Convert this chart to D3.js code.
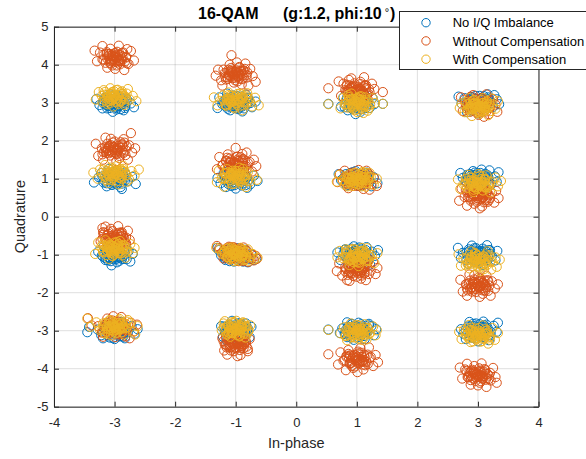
<!DOCTYPE html>
<html>
<head>
<meta charset="utf-8">
<script src="https://cdn.jsdelivr.net/npm/d3@7/dist/d3.min.js"></script>
<style>
  body { margin: 0; background: #fff; }
  svg { display: block; font-family: "Liberation Sans", Arial, Helvetica, sans-serif; }
</style>
</head>
<body>
<svg id="chart" width="586" height="459"></svg>
<script>
// ---- data -------------------------------------------------------------
const seriesNames = ["No I/Q Imbalance", "Without Compensation", "With Compensation"];
const xTicks = [-4, -3, -2, -1, 0, 1, 2, 3, 4];
const yTicks = [-5, -4, -3, -2, -1, 0, 1, 2, 3, 4, 5];

// Cluster centres (I, Q) for each of the 16 symbols, per series
const idealCentres = [[-3,3],[-3,1],[-3,-1],[-3,-3],[-1,3],[-1,1],[-1,-1],[-1,-3],
                      [1,3],[1,1],[1,-1],[1,-3],[3,3],[3,1],[3,-1],[3,-3]];
const uncompCentres = [[-3,4.17],[-3,1.78],[-3,-0.56],[-3,-2.92],[-1,3.75],[-1,1.39],[-1,-0.97],[-1,-3.34],
                       [1,3.34],[1,0.97],[1,-1.39],[1,-3.75],[3,2.92],[3,0.56],[3,-1.80],[3,-4.17]];
const compCentres = [[-3,3.14],[-3,1.12],[-3,-0.86],[-3,-2.9],[-1,3.05],[-1,1.05],[-1,-0.98],[-1,-2.96],
                     [1,2.99],[1,0.98],[1,-1.04],[1,-3.03],[3,2.9],[3,0.88],[3,-1.15],[3,-3.1]];

// Outer received symbols: deviations from each centre, in hundredths (dI, dQ, dI, dQ, ...)
const idealDev = [
  [-5,8,12,-4,-18,2,3,-14,20,10,-10,-9,7,17,-25,-6,15,-20,0,3,-8,22,27,-2,-14,13,9,-8,-3,-24,18,6,-20,-15,4,12,32,-12,-30,10],
  [6,-3,-11,7,14,11,-4,-16,22,-7,-17,-5,2,19,-26,4,10,-22,-7,10,29,5,-13,-20,17,16,-1,-9,-22,15,8,2,35,-14,-34,-10,12,-27,-9,26],
  [-3,-6,9,5,-14,12,16,-11,-7,18,4,-20,-21,-2,23,9,0,14,-11,-15,13,-3,-18,22,26,-18,6,24,-27,8,-5,-28,19,18,-15,-9,30,2,2,-12],
  [4,2,-9,-8,15,9,-16,6,8,-15,22,-4,-5,16,-22,-12,28,12,0,-22,-12,20,17,-20,-28,3,11,23,33,-8,-19,-20,6,-4,-42,10,-45,-4,38,4],
  [7,4,-6,-10,-15,8,13,-6,2,18,-22,-4,20,11,-9,-20,27,-12,-3,6,-27,14,11,-23,17,21,-14,24,33,3,-30,-14,5,-15,24,-1,-19,-2,-1,-4],
  [-2,5,10,-8,-13,-4,5,15,18,4,-20,10,-7,-19,24,-15,-25,-12,13,20,0,-26,-11,22,30,8,-30,2,8,-4,19,-24,-16,-22,36,-6,3,28,-6,12],
  [-20,8,-12,14,0,0,10,-2,22,-12,-28,12,30,-14,-6,-12,6,12,-17,-6,16,4,-10,16,12,-18,26,0,-24,-2,4,-16,-2,8,20,-20,-30,18,34,-10],
  [3,5,-8,-7,11,12,-13,9,14,-10,-3,-18,6,20,-18,-2,19,3,-10,16,1,-8,23,-17,-21,-16,9,-26,-6,26,17,19,-15,-25,26,10,-24,12,0,0],
  [-4,2,9,-7,-12,10,15,6,1,-15,-18,-4,21,-14,-7,19,6,-24,-22,14,26,12,-15,-20,12,24,-2,-30,29,-4,-26,-10,18,-3,-9,6,-47,-3,43,-3],
  [-6,3,8,-5,-14,-8,14,7,2,12,-20,5,22,-6,-4,-14,10,-16,-26,-4,28,4,-11,15,17,16,4,-2,-30,12,34,-12,-17,-18,24,-20,-2,20,12,6],
  [5,-4,-9,6,12,9,-15,-7,0,16,19,-13,-22,3,8,-20,-5,22,25,8,-27,-14,16,20,-12,-24,30,-3,-3,-8,-19,14,9,2,22,-26,-32,6,35,12],
  [-2,-6,11,4,-13,8,7,-13,18,-3,-8,17,-19,-9,24,12,3,21,-24,6,13,-22,-5,-24,28,-12,-16,22,20,18,-28,-6,32,4,1,6,-47,3,-11,-2],
  [4,-3,-10,7,13,10,-16,-5,8,-14,20,3,-4,18,-22,12,25,-11,-9,-21,16,22,-27,-2,31,9,0,-28,-18,-25,11,-6,-32,16,27,20,-6,4,35,-4],
  [-5,4,10,-6,-14,11,16,9,1,-13,-20,-8,22,-15,-8,20,6,24,-25,2,28,6,-13,-22,14,-26,-1,14,31,-8,-29,15,19,22,-17,-1,8,-3,34,17],
  [6,5,-7,-6,11,-11,-15,9,18,12,-3,17,-19,-14,23,-4,2,-22,-25,5,15,25,-10,24,29,-15,-28,-9,8,-27,32,10,-16,-24,20,2,-4,-2,-33,18],
  [-3,7,8,-9,-12,-4,14,6,3,17,-17,11,21,-12,-8,-19,26,13,-24,-8,9,24,-14,23,18,-25,-28,4,31,-3,0,-28,-20,-22,33,21,12,1,-6,-2]
];
const uncompDev = [
  [-3,5,9,-8,-13,12,12,14,4,-19,-18,-4,19,2,-7,25,23,-15,-24,15,1,-28,27,19,-12,-25,16,-31,-29,-8,32,-6,-20,32,7,33,-33,20,21,24,0,-5,-8,-12],
  [4,-3,-9,8,12,12,-14,-10,0,20,18,-16,-21,2,8,-24,-6,27,24,10,-27,-18,15,26,-15,30,29,-9,-31,14,3,-32,34,2,-19,-28,22,-28,-2,4,27,42,-11,-4],
  [-2,4,7,-9,-10,11,11,13,2,-20,-15,-6,16,-1,-6,24,19,-14,-19,15,-1,-27,22,19,-12,-24,13,-30,-23,-9,25,-5,-15,30,6,31,0,-2,-8,-12,10,4,-20,26],
  [3,4,-8,-7,14,10,-15,8,9,-17,21,-5,-4,19,-21,-13,27,13,1,-25,-12,24,18,-23,-27,4,11,28,32,-10,-19,-24,25,-28,6,-4,-44,25,-38,6,37,8,-2,30],
  [2,-4,-9,7,13,10,-13,-12,6,19,18,-9,-18,3,-3,-22,24,14,-24,-16,10,-27,-10,25,28,-5,-29,12,16,28,33,-20,-22,-30,2,31,-33,-4,21,-30,-7,50,6,1],
  [-4,3,8,-6,-11,-11,13,12,1,18,-16,9,18,-12,-6,-22,23,5,-22,-4,11,26,-13,25,27,-20,-27,18,7,-30,-18,-26,30,11,-31,-14,18,30,34,-6,0,42,-2,-1],
  [-19,10,-9,16,1,-1,11,-4,23,-10,-27,14,30,-18,-5,-12,7,14,-15,-8,17,6,-11,18,13,-20,27,-2,-23,2,5,-20,-1,10,21,-22,-31,20,35,-14,33,-6,26,-14],
  [2,4,-7,-8,9,11,-11,10,13,-12,-3,-20,5,22,-16,-3,17,5,-8,18,0,-10,20,-20,-19,-18,8,-30,-5,29,15,22,-14,-29,23,12,-22,14,11,-2,-1,31,3,-33],
  [4,3,-8,-7,11,-11,-12,11,15,12,-1,-20,-17,-4,6,21,21,-6,-22,16,2,-28,25,16,-13,26,18,-25,-26,-16,29,2,-9,30,10,-31,-30,22,12,33,-47,4,43,-6],
  [-5,2,8,-7,-12,9,13,8,1,-16,-18,-9,20,15,-7,19,24,-12,-23,-1,11,-24,-14,-22,28,5,-28,15,16,24,3,26,-32,-6,33,-16,21,-26,-9,-3,6,4,-20,24],
  [3,-4,-8,6,12,10,-13,-9,0,-19,17,14,-19,7,7,-24,-5,24,23,-3,-24,-16,15,-28,-12,-30,27,20,-29,16,31,-12,-2,31,20,26,-33,-4,9,-2,-16,-28,34,4],
  [-3,4,9,-6,-11,-11,12,12,2,20,-17,9,18,-13,-6,-23,23,6,-22,-4,11,-27,-14,24,27,-18,-27,18,6,29,-18,-29,31,11,-31,-14,20,31,35,-8,1,-34,-47,13],
  [2,5,-9,-6,12,-10,-13,10,15,12,-2,-18,-17,-3,6,20,20,-5,-22,16,1,-24,25,17,-12,24,18,-22,-25,-14,29,3,-8,28,10,-29,-28,22,14,30,-4,1,32,-16],
  [-3,4,8,-7,-12,-9,13,11,0,18,-16,10,18,-13,-6,-22,23,6,-22,-4,10,26,-13,25,27,-19,-27,18,7,-29,-18,-27,30,12,-31,-14,18,30,34,-7,-1,-2,3,-34],
  [4,-3,-8,8,11,12,-13,-10,1,20,17,-15,-19,2,8,-23,-6,26,23,10,-25,-17,14,25,-14,28,28,-9,-29,14,3,-31,33,2,-18,-28,21,-28,-2,4,-10,-5,12,0],
  [-2,4,8,-9,-11,11,12,13,3,-20,-16,-6,18,-1,-6,24,21,-14,-21,15,0,-27,25,19,-12,-25,14,-31,-26,-9,29,-5,-18,30,6,31,-30,20,31,-20,0,-3,-7,7]
];
const compDev = [
  [2,-4,-9,6,14,3,-4,14,10,-12,-16,-8,20,10,-21,4,5,20,-12,-18,25,-6,-2,-24,16,-20,-26,14,30,4,-7,24,12,16,-31,-6,22,22,-18,19,36,-10,0,1],
  [-3,2,8,-8,-13,9,11,12,-6,-15,19,-2,-18,-4,3,21,24,-14,-24,12,14,22,-10,-23,28,8,-28,-12,7,-27,-16,24,33,-4,-35,4,20,-20,-1,8,40,12,5,-2],
  [4,3,-7,-5,12,-9,-12,10,16,8,-3,-18,0,18,-19,-7,21,-6,-22,6,9,22,26,14,-9,-25,18,-22,-27,18,30,-10,-15,24,-32,-12,33,4,6,-10,-4,9,14,1],
  [-2,4,9,-6,-13,-3,12,11,4,-15,-9,15,20,-2,-19,9,26,10,-24,-8,16,-20,-6,-22,31,-12,8,21,-30,12,38,2,-16,-17,22,18,0,-2,-45,22,-40,0,34,-20],
  [1,-5,-11,4,12,8,-6,13,17,-9,-16,-10,7,19,22,5,-21,14,-2,-20,27,-15,-26,0,11,-25,19,20,-30,-12,32,8,-12,22,4,3,-36,9,24,-3,-8,-2,38,-12],
  [-4,3,9,6,-10,-9,15,-4,0,15,-17,9,20,12,-6,-19,24,-12,-23,-4,11,-22,-14,20,29,4,-28,16,6,24,-31,-14,17,-27,35,-8,-19,-26,2,-3,12,21,-8,10],
  [-18,8,-8,14,2,-2,12,-5,24,-8,-26,12,31,-14,-4,-13,8,12,-14,-8,18,6,-12,16,14,-16,28,0,-22,0,6,-18,0,9,22,-18,-32,16,36,-10,-2,3,16,-2],
  [2,-3,-7,6,10,7,-12,-8,14,-12,-3,16,6,-19,-16,4,18,8,-9,-20,1,22,21,-6,-20,15,12,18,-14,-14,24,10,-23,-3,5,-1,-5,-10,16,-22,-18,21,9,12],
  [3,4,-8,-6,12,-10,-13,8,16,9,-2,-17,-18,-3,7,18,22,-4,-23,13,1,-24,26,13,-14,21,18,-20,-27,-14,30,0,-9,25,11,-26,4,-1,-5,11,-47,-3,43,-2],
  [4,-2,-8,6,13,5,-13,-7,0,-12,18,-10,-19,8,8,14,23,6,-24,-2,-4,17,28,-14,-29,12,15,-19,-15,-18,33,2,10,20,-33,-6,21,17,-2,3,6,-6,-9,-1],
  [-3,5,10,-4,-12,-9,14,10,1,-16,-17,7,20,-12,-7,19,25,3,-23,-5,8,22,-12,-23,29,-18,-28,14,17,21,3,-26,-32,-3,34,8,22,-1,-4,-2,9,12,-18,18],
  [4,5,-9,-3,12,-8,-13,10,17,8,-4,-15,0,18,-18,-10,22,-3,-21,12,8,-21,27,14,-10,22,16,-20,-27,-4,31,-9,-16,-22,13,20,-2,-1,5,9,-47,5,33,4],
  [-2,5,10,-3,-12,-8,14,11,3,-15,-17,6,21,-12,-6,17,24,6,-22,-15,9,22,-27,8,29,-6,-10,-25,17,-23,-30,-4,33,14,4,-2,-14,22,23,21,-5,-3,12,1],
  [3,-4,-9,7,12,10,-14,-6,17,-10,-2,17,-20,12,8,-19,24,4,-24,-3,14,21,-7,-23,29,15,-29,-15,20,-24,1,24,33,-8,-33,10,-16,22,6,2,-4,-10,38,6],
  [-4,-3,8,6,-11,10,13,-9,0,-16,-17,-6,19,13,-5,20,24,-4,-24,5,10,-23,-14,-21,29,8,-28,-14,16,24,31,-17,-32,16,4,-28,-11,24,22,-24,2,3,36,2],
  [5,3,-8,-7,11,-10,-12,9,15,11,-3,16,-19,-3,20,-6,4,-19,-23,12,24,17,-12,-20,8,24,28,-14,-27,-12,-15,25,33,4,17,-24,-31,7,0,-2,-6,7,13,2]
];

// Intermediate ring of received symbols, in hundredths
const idealMid = [
  [15,4,-14,-6,6,15,-8,-14,18,-9,-17,10,10,-17,-4,17,20,2,-19,-1,13,12,-12,-15,3,-18,-16,13,17,-14,-9,5],
  [-16,3,14,8,-5,-16,9,14,-18,-10,17,-5,-11,16,4,-15,19,11,-20,6,12,-13,-2,18,15,-2,-13,-12,7,10,-7,-4],
  [12,-11,-13,9,17,7,-6,-17,1,16,-19,-5,20,-12,-10,13,8,-16,-15,-14,16,14,-3,19,11,3,-18,2,5,-8,-9,-9],
  [-12,-12,16,-7,-17,6,7,17,-3,-19,18,12,-14,14,10,-14,-20,-3,21,3,-8,-18,2,15,-11,9,14,-16,-6,8,9,-3],
  [17,9,-15,12,4,-17,-10,-11,19,-4,-18,-8,9,16,-6,14,14,-15,-20,3,1,-14,12,6,-13,-16,20,13,-4,19,6,-9],
  [-18,8,13,-12,-7,17,15,10,-12,-14,20,-7,-2,-17,8,18,-16,-4,10,-18,-20,14,18,2,-9,11,3,13,16,-17,-14,-1],
  [-15,4,14,-6,-6,15,8,-14,-18,-9,17,10,-10,-17,4,17,-20,2,19,-1,-13,12,12,-15,-3,-18,16,13,-17,-14,9,5],
  [16,3,-14,8,5,-16,-9,14,18,-10,-17,-5,11,16,-4,-15,-19,11,20,6,-12,-13,2,18,-15,-2,13,-12,-7,10,7,-4],
  [-12,-11,13,9,-17,7,6,-17,-1,16,19,-5,-20,-12,10,13,-8,-16,15,-14,-16,14,3,19,-11,3,18,2,-5,-8,9,-9],
  [12,-12,-16,-7,17,6,-7,17,3,-19,-18,12,14,14,-10,-14,20,-3,-21,3,8,-18,-2,15,11,9,-14,-16,6,8,-9,-3],
  [-17,9,15,12,-4,-17,10,-11,-19,-4,18,-8,-9,16,6,14,-14,-15,20,3,-1,-14,-12,6,13,-16,-20,13,4,19,-6,-9],
  [18,8,-13,-12,7,17,-15,10,12,-14,-20,-7,2,-17,-8,18,16,-4,-10,-18,20,14,-18,2,9,11,-3,13,-16,-17,14,-1],
  [15,-4,-14,6,6,-15,-8,14,18,9,-17,-10,10,17,-4,-17,20,-2,-19,1,13,-12,-12,15,3,18,-16,-13,17,14,-9,-5],
  [-16,-3,14,-8,-5,16,9,-14,-18,10,17,5,-11,-16,4,15,19,-11,-20,-6,12,13,-2,-18,15,2,-13,12,7,-10,-7,4],
  [12,11,-13,-9,17,-7,-6,17,1,-16,-19,5,20,12,-10,-13,8,16,-15,14,16,-14,-3,-19,11,-3,-18,-2,5,8,-9,9],
  [-12,12,16,7,-17,-6,7,-17,-3,19,18,-12,-14,-14,10,14,-20,3,21,-3,-8,18,2,-15,-11,-9,14,16,-6,-8,9,3]
];
const uncompMid = [
  [17,-9,-15,-12,4,17,-10,11,19,4,-18,8,9,-16,-6,-14,14,15,-20,-3,1,14,12,-6,-13,16,20,-13,-4,-19,6,9],
  [-18,-8,13,12,-7,-17,15,-10,-12,14,20,7,-2,17,8,-18,-16,4,10,18,-20,-14,18,-2,-9,-11,3,-13,16,17,-14,1],
  [-15,-4,14,6,-6,-15,8,14,-18,9,17,-10,-10,17,4,-17,-20,-2,19,1,-13,-12,12,15,-3,18,16,-13,-17,14,9,-5],
  [16,-3,-14,-8,5,16,-9,-14,18,10,-17,5,11,-16,-4,15,-19,-11,20,-6,-12,13,2,-18,-15,2,13,12,-7,-10,7,4],
  [-12,11,13,-9,-17,-7,6,17,-1,-16,19,5,-20,12,10,-13,-8,16,15,14,-16,-14,3,-19,-11,-3,18,-2,-5,8,9,9],
  [12,12,-16,7,17,-6,-7,-17,3,19,-18,-12,14,-14,-10,14,20,3,-21,-3,8,18,-2,-15,11,-9,-14,16,6,-8,-9,3],
  [-17,-9,15,-12,-4,17,10,11,-19,4,18,8,-9,-16,6,-14,-14,15,20,-3,-1,14,-12,-6,13,16,-20,-13,4,-19,-6,9],
  [18,-8,-13,12,7,-17,-15,-10,12,14,-20,7,2,17,-8,-18,16,4,-10,18,20,-14,-18,-2,9,-11,-3,-13,-16,17,14,1],
  [15,4,-14,-6,6,15,-8,-14,18,-9,-17,10,10,-17,-4,17,20,2,-19,-1,13,12,-12,-15,3,-18,-16,13,17,-14,-9,5],
  [-16,3,14,8,-5,-16,9,14,-18,-10,17,-5,-11,16,4,-15,19,11,-20,6,12,-13,-2,18,15,-2,-13,-12,7,10,-7,-4],
  [12,-11,-13,9,17,7,-6,-17,1,16,-19,-5,20,-12,-10,13,8,-16,-15,-14,16,14,-3,19,11,3,-18,2,5,-8,-9,-9],
  [-12,-12,16,-7,-17,6,7,17,-3,-19,18,12,-14,14,10,-14,-20,-3,21,3,-8,-18,2,15,-11,9,14,-16,-6,8,9,-3],
  [17,9,-15,12,4,-17,-10,-11,19,-4,-18,-8,9,16,-6,14,14,-15,-20,3,1,-14,12,6,-13,-16,20,13,-4,19,6,-9],
  [-18,8,13,-12,-7,17,15,10,-12,-14,20,-7,-2,-17,8,18,-16,-4,10,-18,-20,14,18,2,-9,11,3,13,16,-17,-14,-1],
  [-15,4,14,-6,-6,15,8,-14,-18,-9,17,10,-10,-17,4,17,-20,2,19,-1,-13,12,12,-15,-3,-18,16,13,-17,-14,9,5],
  [16,3,-14,8,5,-16,-9,14,18,-10,-17,-5,11,16,-4,-15,-19,11,20,6,-12,-13,2,18,-15,-2,13,-12,-7,10,7,-4]
];
const compMid = [
  [-12,-11,13,9,-17,7,6,-17,-1,16,19,-5,-20,-12,10,13,-8,-16,15,-14,-16,14,3,19,-11,3,18,2,-5,-8,9,-9],
  [12,-12,-16,-7,17,6,-7,17,3,-19,-18,12,14,14,-10,-14,20,-3,-21,3,8,-18,-2,15,11,9,-14,-16,6,8,-9,-3],
  [-17,9,15,12,-4,-17,10,-11,-19,-4,18,-8,-9,16,6,14,-14,-15,20,3,-1,-14,-12,6,13,-16,-20,13,4,19,-6,-9],
  [18,8,-13,-12,7,17,-15,10,12,-14,-20,-7,2,-17,-8,18,16,-4,-10,-18,20,14,-18,2,9,11,-3,13,-16,-17,14,-1],
  [15,-4,-14,6,6,-15,-8,14,18,9,-17,-10,10,17,-4,-17,20,-2,-19,1,13,-12,-12,15,3,18,-16,-13,17,14,-9,-5],
  [-16,-3,14,-8,-5,16,9,-14,-18,10,17,5,-11,-16,4,15,19,-11,-20,-6,12,13,-2,-18,15,2,-13,12,7,-10,-7,4],
  [12,11,-13,-9,17,-7,-6,17,1,-16,-19,5,20,12,-10,-13,8,16,-15,14,16,-14,-3,-19,11,-3,-18,-2,5,8,-9,9],
  [-12,12,16,7,-17,-6,7,-17,-3,19,18,-12,-14,-14,10,14,-20,3,21,-3,-8,18,2,-15,-11,-9,14,16,-6,-8,9,3],
  [17,-9,-15,-12,4,17,-10,11,19,4,-18,8,9,-16,-6,-14,14,15,-20,-3,1,14,12,-6,-13,16,20,-13,-4,-19,6,9],
  [-18,-8,13,12,-7,-17,15,-10,-12,14,20,7,-2,17,8,-18,-16,4,10,18,-20,-14,18,-2,-9,-11,3,-13,16,17,-14,1],
  [-15,-4,14,6,-6,-15,8,14,-18,9,17,-10,-10,17,4,-17,-20,-2,19,1,-13,-12,12,15,-3,18,16,-13,-17,14,9,-5],
  [16,-3,-14,-8,5,16,-9,-14,18,10,-17,5,11,-16,-4,15,-19,-11,20,-6,-12,13,2,-18,-15,2,13,12,-7,-10,7,4],
  [-12,11,13,-9,-17,-7,6,17,-1,-16,19,5,-20,12,10,-13,-8,16,15,14,-16,-14,3,-19,-11,-3,18,-2,-5,8,9,9],
  [12,12,-16,7,17,-6,-7,-17,3,19,-18,-12,14,-14,-10,14,20,3,-21,-3,8,18,-2,-15,11,-9,-14,16,6,-8,-9,3],
  [-17,-9,15,-12,-4,17,10,11,-19,4,18,8,-9,-16,6,-14,-14,15,20,-3,-1,14,-12,-6,13,16,-20,-13,4,-19,-6,9],
  [18,-8,-13,12,7,-17,-15,-10,12,14,-20,7,2,17,-8,-18,16,4,-10,18,20,-14,-18,-2,9,-11,-3,-13,-16,17,14,1]
];

// Inner received symbols close to each centre, in hundredths
const idealCore = [
  [0,0,5,-3,-6,4,3,7,-2,-8,9,2,-9,-2,6,-9,-4,10,11,-6,-11,7,1,-12,8,9,-7,-7,13,1,-13,-4,2,4,-3,-4,7,-1,-5,1],
  [2,-1,-4,5,6,3,-1,-7,8,-4,-8,-3,4,9,-10,4,10,7,-3,-11,12,-8,-12,8,0,12,5,-10,-6,-1,3,1,-2,2,9,0,-9,10,14,3],
  [-1,2,4,-4,-5,-6,7,5,1,9,-8,3,9,-8,-3,-10,11,2,-10,-6,5,11,-6,8,13,-4,0,-3,-12,1,3,-1,-4,6,8,7,-7,-11,2,-7],
  [3,-2,-5,4,6,5,-3,-6,9,-3,-8,7,1,10,-11,-2,12,4,-6,-10,7,-9,-13,5,4,12,14,-7,-2,1,0,-5,-9,-7,10,9,-4,8,5,0],
  [-3,-1,6,2,-7,-5,2,8,-1,-9,10,-4,-10,3,5,-11,-5,11,12,6,-12,-8,7,-2,-8,9,4,4,-14,0,11,-10,1,-4,-6,6,13,10,0,1],
  [1,3,-3,-3,7,-5,-6,6,4,10,-9,-6,10,1,-2,-12,-11,9,13,-3,6,9,-4,-9,-13,-1,9,-10,0,6,-7,2,12,7,3,-6,-10,-9,5,1],
  [-2,0,4,6,-6,-3,8,-6,-1,9,-9,5,11,3,2,-10,-12,-5,6,11,-5,10,13,-9,-8,-10,3,-4,-3,4,10,-1,-11,1,7,2,-14,8,0,-6],
  [4,1,-2,-5,-7,2,5,-8,1,7,-10,-4,9,6,-4,11,12,-2,-8,-9,7,12,-13,4,3,-11,-6,8,11,-7,0,-2,-11,10,13,5,-1,3,6,-4],
  [0,0,-5,-3,6,4,-3,7,2,-8,-9,2,9,-2,-6,-9,4,10,-11,-6,11,7,-1,-12,-8,9,7,-7,-13,1,13,-4,-2,4,3,-4,-7,-1,5,1],
  [-2,-1,4,5,-6,3,1,-7,-8,-4,8,-3,-4,9,10,4,-10,7,3,-11,-12,-8,12,8,0,12,-5,-10,6,-1,-3,1,2,2,-9,0,9,10,-14,3],
  [1,2,-4,-4,5,-6,-7,5,-1,9,8,3,-9,-8,3,-10,-11,2,10,-6,-5,11,6,8,-13,-4,0,-3,12,1,-3,-1,4,6,-8,7,7,-11,-2,-7],
  [-3,-2,5,4,-6,5,3,-6,-9,-3,8,7,-1,10,11,-2,-12,4,6,-10,-7,-9,13,5,-4,12,-14,-7,2,1,0,-5,9,-7,-10,9,4,8,-5,0],
  [3,-1,-6,2,7,-5,-2,8,1,-9,-10,-4,10,3,-5,-11,5,11,-12,6,12,-8,-7,-2,8,9,-4,4,14,0,-11,-10,-1,-4,6,6,-13,10,0,1],
  [-1,3,3,-3,-7,-5,6,6,-4,10,9,-6,-10,1,2,-12,11,9,-13,-3,-6,9,4,-9,13,-1,-9,-10,0,6,7,2,-12,7,-3,-6,10,-9,-5,1],
  [2,0,-4,6,6,-3,-8,-6,1,9,9,5,-11,3,-2,-10,12,-5,-6,11,5,10,-13,-9,8,-10,-3,-4,3,4,-10,-1,11,1,-7,2,14,8,0,-6],
  [-4,1,2,-5,7,2,-5,-8,-1,7,10,-4,-9,6,4,11,-12,-2,8,-9,-7,12,13,4,-3,-11,6,8,-11,-7,0,-2,11,10,-13,5,1,3,-6,-4]
];
const uncompCore = [
  [-1,-2,4,4,-5,6,7,-5,1,-9,-8,-3,9,8,-3,10,11,-2,-10,6,5,-11,-6,-8,13,4,0,3,-12,-1,3,1,-4,-6,8,-7,-7,11,2,7],
  [3,2,-5,-4,6,-5,-3,6,9,3,-8,-7,1,-10,-11,2,12,-4,-6,10,7,9,-13,-5,4,-12,14,7,-2,-1,0,5,-9,7,10,-9,-4,-8,5,0],
  [-3,1,6,-2,-7,5,2,-8,-1,9,10,4,-10,-3,5,11,-5,-11,12,-6,-12,8,7,2,-8,-9,4,-4,-14,0,11,10,1,4,-6,-6,13,-10,0,-1],
  [1,-3,-3,3,7,5,-6,-6,4,-10,-9,6,10,-1,-2,12,-11,-9,13,3,6,-9,-4,9,-13,1,9,10,0,-6,-7,-2,12,-7,3,6,-10,9,5,-1],
  [-2,0,4,-6,-6,3,8,6,-1,-9,-9,-5,11,-3,2,10,-12,5,6,-11,-5,-10,13,9,-8,10,3,4,-3,-4,10,1,-11,-1,7,-2,-14,-8,0,6],
  [4,-1,-2,5,-7,-2,5,8,1,-7,-10,4,9,-6,-4,-11,12,2,-8,9,7,-12,-13,-4,3,11,-6,-8,11,7,0,2,-11,-10,13,-5,-1,-3,6,4],
  [0,0,5,3,-6,-4,3,-7,-2,8,9,-2,-9,2,6,9,-4,-10,11,6,-11,-7,1,12,8,-9,-7,7,13,-1,-13,4,2,-4,-3,4,7,1,-5,-1],
  [2,1,-4,-5,6,-3,-1,7,8,4,-8,3,4,-9,-10,-4,10,-7,-3,11,12,8,-12,-8,0,-12,5,10,-6,1,3,-1,-2,-2,9,0,-9,-10,14,-3],
  [-3,-1,6,2,-7,-5,2,8,-1,-9,10,-4,-10,3,5,-11,-5,11,12,6,-12,-8,7,-2,-8,9,4,4,-14,0,11,-10,1,-4,-6,6,13,10,0,1],
  [1,3,-3,-3,7,-5,-6,6,4,10,-9,-6,10,1,-2,-12,-11,9,13,-3,6,9,-4,-9,-13,-1,9,-10,0,6,-7,2,12,7,3,-6,-10,-9,5,1],
  [-2,0,4,6,-6,-3,8,-6,-1,9,-9,5,11,3,2,-10,-12,-5,6,11,-5,10,13,-9,-8,-10,3,-4,-3,4,10,-1,-11,1,7,2,-14,8,0,-6],
  [4,1,-2,-5,-7,2,5,-8,1,7,-10,-4,9,6,-4,11,12,-2,-8,-9,7,12,-13,4,3,-11,-6,8,11,-7,0,-2,-11,10,13,5,-1,3,6,-4],
  [0,0,5,-3,-6,4,3,7,-2,-8,9,2,-9,-2,6,-9,-4,10,11,-6,-11,7,1,-12,8,9,-7,-7,13,1,-13,-4,2,4,-3,-4,7,-1,-5,1],
  [2,-1,-4,5,6,3,-1,-7,8,-4,-8,-3,4,9,-10,4,10,7,-3,-11,12,-8,-12,8,0,12,5,-10,-6,-1,3,1,-2,2,9,0,-9,10,14,3],
  [-1,2,4,-4,-5,-6,7,5,1,9,-8,3,9,-8,-3,-10,11,2,-10,-6,5,11,-6,8,13,-4,0,-3,-12,1,3,-1,-4,6,8,7,-7,-11,2,-7],
  [3,-2,-5,4,6,5,-3,-6,9,-3,-8,7,1,10,-11,-2,12,4,-6,-10,7,-9,-13,5,4,12,14,-7,-2,1,0,-5,-9,-7,10,9,-4,8,5,0]
];
const compCore = [
  [-1,3,3,-3,-7,-5,6,6,-4,10,9,-6,-10,1,2,-12,11,9,-13,-3,-6,9,4,-9,13,-1,-9,-10,0,6,7,2,-12,7,-3,-6,10,-9,-5,1],
  [2,0,-4,6,6,-3,-8,-6,1,9,9,5,-11,3,-2,-10,12,-5,-6,11,5,10,-13,-9,8,-10,-3,-4,3,4,-10,-1,11,1,-7,2,14,8,0,-6],
  [-4,1,2,-5,7,2,-5,-8,-1,7,10,-4,-9,6,4,11,-12,-2,8,-9,-7,12,13,4,-3,-11,6,8,-11,-7,0,-2,11,10,-13,5,1,3,-6,-4],
  [0,0,-5,-3,6,4,-3,7,2,-8,-9,2,9,-2,-6,-9,4,10,-11,-6,11,7,-1,-12,-8,9,7,-7,-13,1,13,-4,-2,4,3,-4,-7,-1,5,1],
  [-2,-1,4,5,-6,3,1,-7,-8,-4,8,-3,-4,9,10,4,-10,7,3,-11,-12,-8,12,8,0,12,-5,-10,6,-1,-3,1,2,2,-9,0,9,10,-14,3],
  [1,2,-4,-4,5,-6,-7,5,-1,9,8,3,-9,-8,3,-10,-11,2,10,-6,-5,11,6,8,-13,-4,0,-3,12,1,-3,-1,4,6,-8,7,7,-11,-2,-7],
  [-3,-2,5,4,-6,5,3,-6,-9,-3,8,7,-1,10,11,-2,-12,4,6,-10,-7,-9,13,5,-4,12,-14,-7,2,1,0,-5,9,-7,-10,9,4,8,-5,0],
  [3,-1,-6,2,7,-5,-2,8,1,-9,-10,-4,10,3,-5,-11,5,11,-12,6,12,-8,-7,-2,8,9,-4,4,14,0,-11,-10,-1,-4,6,6,-13,10,0,1],
  [4,-1,-2,5,-7,-2,5,8,1,-7,-10,4,9,-6,-4,-11,12,2,-8,9,7,-12,-13,-4,3,11,-6,-8,11,7,0,2,-11,-10,13,-5,-1,-3,6,4],
  [0,0,5,3,-6,-4,3,-7,-2,8,9,-2,-9,2,6,9,-4,-10,11,6,-11,-7,1,12,8,-9,-7,7,13,-1,-13,4,2,-4,-3,4,7,1,-5,-1],
  [2,1,-4,-5,6,-3,-1,7,8,4,-8,3,4,-9,-10,-4,10,-7,-3,11,12,8,-12,-8,0,-12,5,10,-6,1,3,-1,-2,-2,9,0,-9,-10,14,-3],
  [-1,-2,4,4,-5,6,7,-5,1,-9,-8,-3,9,8,-3,10,11,-2,-10,6,5,-11,-6,-8,13,4,0,3,-12,-1,3,1,-4,-6,8,-7,-7,11,2,7],
  [3,2,-5,-4,6,-5,-3,6,9,3,-8,-7,1,-10,-11,2,12,-4,-6,10,7,9,-13,-5,4,-12,14,7,-2,-1,0,5,-9,7,10,-9,-4,-8,5,0],
  [-3,1,6,-2,-7,5,2,-8,-1,9,10,4,-10,-3,5,11,-5,-11,12,-6,-12,8,7,2,-8,-9,4,-4,-14,0,11,10,1,4,-6,-6,13,-10,0,-1],
  [1,-3,-3,3,7,5,-6,-6,4,-10,-9,6,10,-1,-2,12,-11,-9,13,3,6,-9,-4,9,-13,1,9,10,0,-6,-7,-2,12,-7,3,6,-10,9,5,-1],
  [-2,0,4,-6,-6,3,8,6,-1,-9,-9,-5,11,-3,2,10,-12,5,6,-11,-5,-10,13,9,-8,10,3,4,-3,-4,10,1,-11,-1,7,-2,-14,-8,0,6]
];

// ---- layout & styling ---------------------------------------------------
const plot = { left: 54, right: 538.5, top: 26.7, bottom: 406.7 };
const colors = ["#0072BD", "#D95319", "#EDB120"];
const axisColor = "#262626";

const svg = d3.select("#chart");
const x = d3.scaleLinear().domain([-4, 4]).range([plot.left, plot.right]);
const y = d3.scaleLinear().domain([-5, 5]).range([plot.bottom, plot.top]);

// centre + deviation lists -> symbol coordinates
function symbolsOf(centres, ...layers) {
  const pts = [];
  centres.forEach((c, i) => {
    layers.forEach(layer => {
      const d = layer[i];
      for (let k = 0; k < d.length; k += 2) pts.push([c[0] + d[k] / 100, c[1] + d[k + 1] / 100]);
    });
  });
  return pts;
}
const series = [
  symbolsOf(idealCentres, idealDev, idealMid, idealCore),
  symbolsOf(uncompCentres, uncompDev, uncompMid, uncompCore),
  symbolsOf(compCentres, compDev, compMid, compCore)
];

// grid
const grid = svg.append("g").attr("stroke", axisColor).attr("stroke-opacity", 0.15).attr("stroke-width", 1);
grid.selectAll(".gx").data(xTicks).join("line")
  .attr("x1", d => x(d)).attr("x2", d => x(d)).attr("y1", plot.top).attr("y2", plot.bottom);
grid.selectAll(".gy").data(yTicks).join("line")
  .attr("y1", d => y(d)).attr("y2", d => y(d)).attr("x1", plot.left).attr("x2", plot.right);

// markers, series by series so later ones sit on top
series.forEach((pts, si) => {
  svg.append("g").selectAll("circle").data(pts).join("circle")
    .attr("cx", d => x(d[0])).attr("cy", d => y(d[1]))
    .attr("r", 4.6).attr("fill", "none")
    .attr("stroke", colors[si]).attr("stroke-width", 1);
});

// axes with inward ticks on all four sides
const fmt = d => String(d);
function styleAxis(g) {
  g.selectAll("path").attr("stroke", axisColor);
  g.selectAll("line").attr("stroke", axisColor);
  g.selectAll("text").attr("fill", axisColor).style("font-size", "13px")
    .style("font-family", '"Liberation Sans", Arial, sans-serif');
}
svg.append("g").attr("transform", `translate(0,${plot.bottom})`)
  .call(d3.axisBottom(x).tickValues(xTicks).tickFormat(fmt).tickSizeInner(-5).tickSizeOuter(0).tickPadding(11.5))
  .call(styleAxis);
svg.append("g").attr("transform", `translate(0,${plot.top})`)
  .call(d3.axisTop(x).tickValues(xTicks).tickFormat("").tickSizeInner(-5).tickSizeOuter(0))
  .call(styleAxis);
svg.append("g").attr("transform", `translate(${plot.left},0)`)
  .call(d3.axisLeft(y).tickValues(yTicks).tickFormat(fmt).tickSizeInner(-5).tickSizeOuter(0).tickPadding(5.5))
  .call(styleAxis);
svg.append("g").attr("transform", `translate(${plot.right},0)`)
  .call(d3.axisRight(y).tickValues(yTicks).tickFormat("").tickSizeInner(-5).tickSizeOuter(0))
  .call(styleAxis);

// axis labels
svg.append("text").attr("x", (plot.left + plot.right) / 2).attr("y", 448)
  .attr("text-anchor", "middle").attr("fill", axisColor).style("font-size", "14.5px").text("In-phase");
svg.append("text").attr("transform", `translate(25,${(plot.top + plot.bottom) / 2}) rotate(-90)`)
  .attr("text-anchor", "middle").attr("fill", axisColor).style("font-size", "14.5px").text("Quadrature");

// title
const title = svg.append("text").attr("x", 198).attr("y", 19)
  .attr("fill", "#000").style("font-size", "16px").style("font-weight", "bold");
title.append("tspan").text("16-QAM");
title.append("tspan").attr("x", 283).text("(g:1.2, phi:10");
title.append("tspan").attr("dx", 3).attr("dy", -3).style("font-size", "11px").style("font-weight", "normal").text("°");
title.append("tspan").attr("x", 390).attr("dy", 3).text(")");

// legend
const legend = svg.append("g");
legend.append("rect").attr("x", 399.5).attr("y", 11.5).attr("width", 200).attr("height", 58)
  .attr("fill", "#fff").attr("stroke", axisColor).attr("stroke-width", 1);
const rowsY = [22.7, 40.9, 59.2];
seriesNames.forEach((name, i) => {
  legend.append("circle").attr("cx", 426).attr("cy", rowsY[i]).attr("r", 4.2)
    .attr("fill", "none").attr("stroke", colors[i]).attr("stroke-width", 1);
  legend.append("text").attr("x", 452.7).attr("y", rowsY[i] + 4.6)
    .attr("fill", "#000").style("font-size", "13px").text(name);
});
</script>
</body>
</html>
